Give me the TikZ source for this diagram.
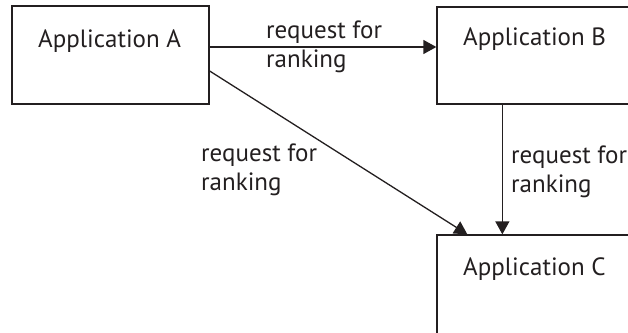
\documentclass[tikz,border=0pt]{standalone}
\usepackage{fontspec}
\setmainfont{PT Sans}
\usetikzlibrary{arrows.meta}
\definecolor{ink}{HTML}{231F20}
\begin{document}
\begin{tikzpicture}[x=1pt,y=-1pt,
  box/.style={draw=ink,line width=1.3pt,rectangle,inner sep=0pt},
  txt/.style={anchor=base west,inner sep=0pt,text=ink,font=\fontsize{25}{29}\selectfont},
  lbl/.style={anchor=north west,inner sep=0pt,text=ink,align=left,font=\fontsize{25}{29}\selectfont},
  conn/.style={draw=ink,line width=1.3pt,-{Triangle[length=13pt,width=14pt]}}]
\useasboundingbox (0,0) rectangle (628,332);
\node[box,minimum width=197pt,minimum height=98pt] (A) at (110.5,55) {};
\node[box,minimum width=263pt,minimum height=97pt] (B) at (568.5,55.5) {};
\node[box,minimum width=263pt,minimum height=165pt] (C) at (568.5,317.5) {};
\node[txt] (tA) at (38,47) {Application A};
\node[txt] (tB) at (463,45) {Application B};
\node[txt] (tC) at (463,275) {Application C};
\draw[conn] ([yshift=8pt]A.east) -- ([yshift=8pt]A.east -| B.west);
\draw[conn] ([xshift=66pt]B.south west) -- ([xshift=66pt]C.north west);
\draw[conn] ([yshift=-16pt]A.east) -- ([xshift=31pt]C.north west);
\node[lbl] (l1) at (266,21) {request for\\ranking};
\node[lbl] (l2) at (201,144) {request for\\ranking};
\node[lbl] (l3) at (511,146) {request for\\ranking};
\end{tikzpicture}
\end{document}
